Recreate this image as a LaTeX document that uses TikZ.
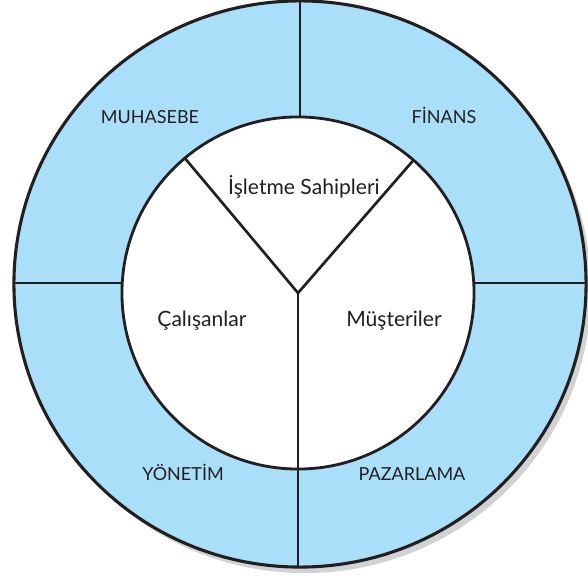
\documentclass[tikz,border=0pt]{standalone}
\usepackage{fontspec}
\setsansfont{Lato}
\usetikzlibrary{calc}
\definecolor{ringblue}{RGB}{170,223,249}
\definecolor{inkline}{RGB}{35,31,32}
\definecolor{shadowgray}{RGB}{209,210,212}
\tikzset{
    x=0.025cm,
    y=-0.025cm,
    font=\sffamily,
    ring_outer/.style={
        draw=inkline,
        fill=ringblue,
        line width=2.2pt
    },
    ring_inner/.style={
        draw=inkline,
        fill=white,
        line width=2pt
    },
    ring_shadow/.style={
        fill=shadowgray
    },
    seg_line/.style={
        draw=inkline,
        line width=1.9pt
    },
    dept_label/.style={
        anchor=base,
        inner sep=0pt,
        text=inkline,
        font=\sffamily\fontsize{12.8}{14}\selectfont
    },
    party_label/.style={
        anchor=base,
        inner sep=0pt,
        text=inkline,
        font=\sffamily\fontsize{15}{17}\selectfont
    }
}

\begin{document}
\begin{tikzpicture}
\useasboundingbox (0,0) rectangle (588,576);

% --- Centres ---
\coordinate (outerC) at (300,284);
\coordinate (hub) at (298,293);

% --- Rings ---
\fill[ring_shadow] ($(outerC)+(5,6)$) ellipse[x radius=7.15cm, y radius=7.075cm];
\draw[ring_outer] (outerC) ellipse[x radius=7.15cm, y radius=7.075cm];
\draw[ring_inner] (hub) circle[radius=4.4cm];

% --- Segment ends ---
\coordinate (topOut) at (300,2);
\coordinate (topIn) at (300,117);
\coordinate (leftOut) at (14,283);
\coordinate (leftIn) at (123,283);
\coordinate (rightIn) at (474,283);
\coordinate (rightOut) at (586,283);
\coordinate (botOut) at (298,566);
\coordinate (armL) at ($(hub)+(130:4.4cm)$);
\coordinate (armR) at ($(hub)+(49:4.4cm)$);

% --- Dividers ---
\draw[seg_line] (topOut) -- (topIn);
\draw[seg_line] (leftOut) -- (leftIn);
\draw[seg_line] (rightIn) -- (rightOut);
\draw[seg_line] (hub) -- (botOut);
\draw[seg_line] (hub) -- (armL);
\draw[seg_line] (hub) -- (armR);

% --- Departments ---
\node[dept_label] (muhasebe) at (150,124) {MUHASEBE};
\node[dept_label] (finans) at (444,124) {FİNANS};
\node[dept_label] (yonetim) at (183,481) {YÖNETİM};
\node[dept_label] (pazarlama) at (412,481) {PAZARLAMA};

% --- Stakeholders ---
\node[party_label] (sahipler) at (304,195) {İşletme Sahipleri};
\node[party_label] (calisanlar) at (202,327) {Çalışanlar};
\node[party_label] (musteriler) at (394,327) {Müşteriler};

\end{tikzpicture}
\end{document}
